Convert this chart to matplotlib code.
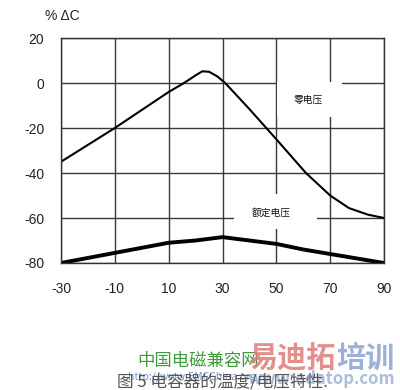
import matplotlib
matplotlib.use("Agg")
import matplotlib.pyplot as plt
from matplotlib.patches import Rectangle

plt.rcParams['font.family'] = ['Noto Sans CJK SC', 'DejaVu Sans']
plt.rcParams['axes.unicode_minus'] = False

# data
temp_zero = [-30, -20, -10, 0, 10, 15, 18, 20, 22.5, 25, 28, 31, 40, 50, 61, 70, 77, 84, 90]
cap_zero = [-35, -27.5, -20, -12, -4, -0.5, 1.8, 3.4, 5.2, 5, 3, 0, -11.6, -25, -40, -50, -55.6, -58.5, -60]
temp_rated = [-30, -10, 10, 20, 30, 40, 50, 60, 70, 80, 90]
cap_rated = [-80, -75.5, -71, -70, -68.5, -70, -71.5, -74, -76, -78, -80]
xticks = [-30, -10, 10, 30, 50, 70, 90]
yticks = [20, 0, -20, -40, -60, -80]
label_zero = "零电压"
label_rated = "额定电压"
ylabel = "% ΔC"
caption = "图 5 电容器的温度/电压特性."

num_font = ['Liberation Sans', 'DejaVu Sans']

fig = plt.figure(figsize=(4, 3.9), dpi=100)
ax = fig.add_axes([61/400, 1-263/390, (384-61)/400, (263-38)/390])
ax.set_xlim(-30, 90)
ax.set_ylim(-80, 20)
ax.set_xticks(xticks)
ax.set_yticks(yticks)
ax.set_xticklabels([str(v) for v in xticks], family=num_font, fontsize=10, color='#222222')
ax.set_yticklabels([str(v) for v in yticks], family=num_font, fontsize=10, color='#222222')
ax.tick_params(length=0)
ax.tick_params(axis='y', pad=12)
ax.tick_params(axis='x', pad=14)
ax.grid(True, color='#3a3a3a', linewidth=1.0)
ax.set_axisbelow(True)
for s in ax.spines.values():
    s.set_color('#333333')
    s.set_linewidth(1.0)
    s.set_zorder(5)

# white boxes behind the curve labels (break the grid)
ax.add_patch(Rectangle((50.3, -15.1), 24.1, 15.4, facecolor='white', edgecolor='none', zorder=2))
ax.add_patch(Rectangle((34.4, -64.9), 30.8, 15.6, facecolor='white', edgecolor='none', zorder=2))

ax.plot(temp_zero, cap_zero, color='black', linewidth=1.5, zorder=3)
ax.plot(temp_rated, cap_rated, color='black', linewidth=2.8, zorder=3)

ax.text(61.9, -7.6, label_zero, fontsize=7, ha='center', va='center', zorder=4, color='#111111')
ax.text(48.1, -57.8, label_rated, fontsize=7, ha='center', va='center', zorder=4, color='#111111')

fig.text(62/400, 1-16/390, ylabel, fontsize=10, family=num_font, ha='center', va='center', color='#222222')

# watermarks and caption
fig.text(198/400, 1-361/390, "中国电磁兼容网", fontsize=12.5, color='#3f9a3a', ha='center', va='center')
fig.text(292/400, 1-358/390, "易迪拓", fontsize=21, color='#e07a7a', ha='center', va='center', alpha=0.85, fontweight='bold')
fig.text(365/400, 1-358/390, "培训", fontsize=21, color='#8aa4d0', ha='center', va='center', alpha=0.85, fontweight='bold')
fig.text(192/400, 1-377/390, "http://www.EMCChina.org", fontsize=7.5, color='#4a6fc8', ha='center', va='center', alpha=0.75)
fig.text(395/400, 1-379/390, "www.edatop.com", fontsize=12, color='#8fa6d0', ha='right', va='center', alpha=0.75, fontweight='bold')
fig.text(222/400, 1-382/390, caption, fontsize=12, color='#555555', ha='center', va='center')

fig.savefig("out.png", dpi=100)
